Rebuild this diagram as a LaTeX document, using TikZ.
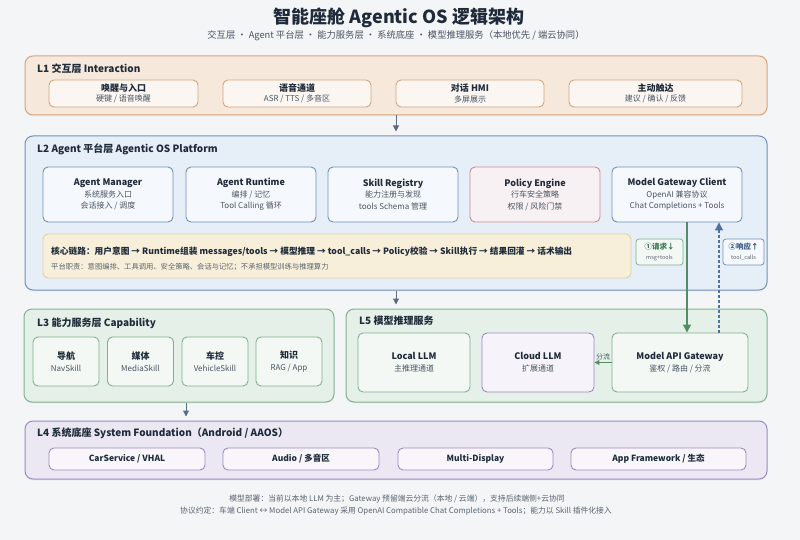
\documentclass[tikz,border=0pt]{standalone}
\usepackage{fontspec}
\setmainfont{Noto Sans CJK SC}
\usetikzlibrary{arrows.meta,shadows,calc}
\definecolor{pagebg}{HTML}{F3F5F7}
\definecolor{ink}{HTML}{1F2B3A}
\definecolor{subink}{HTML}{4A5563}
\definecolor{noteink}{HTML}{5A6470}
\definecolor{lonefill}{HTML}{F6E8DB}
\definecolor{loneline}{HTML}{D6A580}
\definecolor{lonein}{HTML}{FBF6F1}
\definecolor{ltwofill}{HTML}{E6EEF7}
\definecolor{ltwoline}{HTML}{7091B8}
\definecolor{ltwoin}{HTML}{F5F8FC}
\definecolor{polfill}{HTML}{F8F1F3}
\definecolor{polline}{HTML}{C98A93}
\definecolor{corefill}{HTML}{F8EFDA}
\definecolor{coreline}{HTML}{E2D0A2}
\definecolor{grfill}{HTML}{E5F1E8}
\definecolor{grline}{HTML}{80B190}
\definecolor{grin}{HTML}{F3F8F4}
\definecolor{cloudfill}{HTML}{F6F4FA}
\definecolor{cloudline}{HTML}{9D88C2}
\definecolor{lffill}{HTML}{EBE7F3}
\definecolor{lfline}{HTML}{9B8CC0}
\definecolor{lfin}{HTML}{F8F6FB}
\definecolor{arrowgray}{HTML}{5B6B80}
\definecolor{greenarrow}{HTML}{4F8F63}
\definecolor{bluearrow}{HTML}{4A72A8}
\definecolor{reqink}{HTML}{3D7A52}
\definecolor{respink}{HTML}{3C5A85}
\newcommand\btitle[1]{{\fontsize{9}{10}\selectfont\bfseries #1}}
\newcommand\bsub[1]{{\fontsize{8}{10}\selectfont\color{subink}#1}}
\begin{document}
\begin{tikzpicture}[x=1pt,y=-1pt,
  layer/.style={draw, rounded corners=8pt, line width=1pt, drop shadow={opacity=0.08, shadow xshift=0pt, shadow yshift=-1.5pt}},
  ibox/.style={draw, rounded corners=5pt, line width=0.9pt, align=center, inner sep=0pt, text=ink},
  lonebox/.style={ibox, draw=loneline, fill=lonein, minimum height=27pt, font=\fontsize{8}{10.5}\selectfont},
  ltwobox/.style={ibox, draw=ltwoline, fill=ltwoin, minimum width=130pt, minimum height=55pt, font=\fontsize{8}{11.5}\selectfont},
  grbox/.style={ibox, draw=grline, fill=grin, font=\fontsize{8}{12}\selectfont},
  lfbox/.style={ibox, draw=lfline, fill=lfin, minimum height=22pt, font=\fontsize{8.5}{10}\selectfont\bfseries},
  ltitle/.style={anchor=west, inner sep=0pt, font=\fontsize{10}{12}\selectfont\bfseries, text=ink},
  layerarrow/.style={draw=arrowgray, line width=1pt, -{Triangle[length=6pt,width=6pt]}, shorten >=4pt},
  tag/.style={draw, rounded corners=3pt, line width=0.8pt, align=center, inner sep=0pt, minimum height=26pt, font=\fontsize{5.5}{10}\selectfont}
]
\useasboundingbox[fill=pagebg] (0,0) rectangle (800,540);

% title
\node[font=\fontsize{18}{20}\selectfont\bfseries, text=ink] (title) at (399,18) {智能座舱 Agentic OS 逻辑架构};
\node[font=\fontsize{9.3}{11}\selectfont, text=subink] (subtitle) at (396,36) {交互层 · Agent 平台层 · 能力服务层 · 系统底座 · 模型推理服务（本地优先 / 端云协同）};

% L1
\node[layer, draw=loneline, fill=lonefill, minimum width=742pt, minimum height=59pt] (L1) at (396,85.5) {};
\node[ltitle] (L1t) at (37,69) {L1 交互层 Interaction};
\node[lonebox, minimum width=149pt] (wake) at (123.5,93.5) {\btitle{唤醒与入口}\\\bsub{硬键 / 语音唤醒}};
\node[lonebox, minimum width=148pt] (voice) at (297,93.5) {\btitle{语音通道}\\\bsub{ASR / TTS / 多音区}};
\node[lonebox, minimum width=148pt] (hmi) at (470,93.5) {\btitle{对话 HMI}\\\bsub{多屏展示}};
\node[lonebox, minimum width=173pt] (proact) at (655.5,93.5) {\btitle{主动触达}\\\bsub{建议 / 确认 / 反馈}};

% L2
\node[layer, draw=ltwoline, fill=ltwofill, minimum width=742pt, minimum height=154pt] (L2) at (396,213) {};
\node[ltitle] (L2t) at (37,149) {L2 Agent 平台层 Agentic OS Platform};
\node[ltwobox] (am) at (108,194.5) {\btitle{Agent Manager}\\\bsub{系统服务入口}\\\bsub{会话接入 / 调度}};
\node[ltwobox] (ar) at (251,194.5) {\btitle{Agent Runtime}\\\bsub{编排 / 记忆}\\\bsub{Tool Calling 循环}};
\node[ltwobox] (sr) at (393,194.5) {\btitle{Skill Registry}\\\bsub{能力注册与发现}\\\bsub{tools Schema 管理}};
\node[ltwobox, draw=polline, fill=polfill] (pe) at (535,194.5) {\btitle{Policy Engine}\\\bsub{行车安全策略}\\\bsub{权限 / 风险门禁}};
\node[ltwobox] (mgc) at (677,194.5) {\btitle{Model Gateway Client}\\\bsub{OpenAI 兼容协议}\\\bsub{Chat Completions + Tools}};

\node[draw=coreline, fill=corefill, rounded corners=5pt, line width=0.9pt, minimum width=588pt, minimum height=44pt] (core) at (337,256) {};
\node[anchor=west, inner sep=0pt, font=\fontsize{8.7}{11}\selectfont\bfseries, text=ink] (coretxt) at (51,252) {核心链路：用户意图 → Runtime组装 messages/tools → 模型推理 → tool\_calls → Policy校验 → Skill执行 → 结果回灌 → 话术输出};
\node[anchor=west, inner sep=0pt, font=\fontsize{7.3}{9}\selectfont, text=noteink] (coresub) at (51,267) {平台职责：意图编排、工具调用、安全策略、会话与记忆；不承担模型训练与推理算力};

\node[tag, draw=grline, fill=grin, minimum width=47pt] (req) at (659.5,252) {{\fontsize{7.5}{9}\selectfont\bfseries\color{reqink}①请求↓}\\{\color{noteink}msg+tools}};
\node[tag, draw=ltwoline, fill=ltwoin, minimum width=41pt] (resp) at (743.5,252) {{\fontsize{7.5}{9}\selectfont\bfseries\color{respink}②响应↑}\\{\color{noteink}tool\_calls}};

% L3
\node[layer, draw=grline, fill=grfill, minimum width=310pt, minimum height=93pt] (L3) at (179,355.5) {};
\node[ltitle] (L3t) at (37,323) {L3 能力服务层 Capability};
\node[grbox, minimum width=66pt, minimum height=49pt] (nav) at (66,361.5) {\btitle{导航}\\\bsub{NavSkill}};
\node[grbox, minimum width=66pt, minimum height=49pt] (media) at (140.5,361.5) {\btitle{媒体}\\\bsub{MediaSkill}};
\node[grbox, minimum width=66pt, minimum height=49pt] (veh) at (215,361.5) {\btitle{车控}\\\bsub{VehicleSkill}};
\node[grbox, minimum width=66pt, minimum height=49pt] (know) at (289,361.5) {\btitle{知识}\\\bsub{RAG / App}};

% L5
\node[layer, draw=grline, fill=grfill, minimum width=421pt, minimum height=93pt] (L5) at (556.5,355.5) {};
\node[ltitle] (L5t) at (359,321) {L5 模型推理服务};
\node[grbox, minimum width=112pt, minimum height=59pt] (local) at (414,362.5) {\btitle{Local LLM}\\\bsub{主推理通道}};
\node[grbox, draw=cloudline, fill=cloudfill, minimum width=112pt, minimum height=59pt] (cloud) at (538,362.5) {\btitle{Cloud LLM}\\\bsub{扩展通道}};
\node[grbox, minimum width=136pt, minimum height=59pt] (mag) at (680,362.5) {\btitle{Model API Gateway}\\\bsub{鉴权 / 路由 / 分流}};

% L4
\node[layer, draw=lfline, fill=lffill, minimum width=742pt, minimum height=58pt] (L4) at (396,450) {};
\node[ltitle] (L4t) at (37,433) {L4 系统底座 System Foundation（Android / AAOS）};
\node[lfbox, minimum width=156pt] (carsvc) at (127,459) {CarService / VHAL};
\node[lfbox, minimum width=156pt] (audio) at (301,459) {Audio / 多音区};
\node[lfbox, minimum width=155pt] (mdisp) at (475.5,459) {Multi-Display};
\node[lfbox, minimum width=175pt] (appfw) at (658.5,459) {App Framework / 生态};

% notes
\node[font=\fontsize{7.8}{9}\selectfont, text=noteink] (note1) at (397,499) {模型部署：当前以本地 LLM 为主；Gateway 预留端云分流（本地 / 云端），支持后续端侧+云协同};
\node[font=\fontsize{7.8}{9}\selectfont, text=noteink] (note2) at (396,511) {协议约定：车端 Client ↔ Model API Gateway 采用 OpenAI Compatible Chat Completions + Tools；能力以 Skill 插件化接入};

% connectors
\coordinate (xmid) at (396,0);
\coordinate (xcap) at (186,0);
\coordinate (xreq) at (687,0);
\coordinate (xresp) at (719,0);
\draw[layerarrow] (xmid |- L1.south) -- (xmid |- L2.north);
\draw[layerarrow] (xmid |- L2.south) -- (xmid |- L5.north);
\draw[layerarrow] (xcap |- L3.south) -- (xcap |- L4.north);
\draw[draw=greenarrow, line width=1.3pt, -{Triangle[length=8pt,width=8pt]}] (xreq |- mgc.south) -- (xreq |- mag.north);
\draw[draw=bluearrow, line width=1.1pt, dash pattern=on 3pt off 2pt, -{Triangle[length=8pt,width=8pt]}] (xresp |- mag.north) -- (xresp |- mgc.south);
\draw[draw=greenarrow, line width=1pt, -{Triangle[length=5pt,width=5pt]}] (mag.west) -- node[above, font=\fontsize{7}{8}\selectfont, text=subink, inner sep=1.5pt] (splitlbl) {分流} (cloud.east);
\end{tikzpicture}
\end{document}
